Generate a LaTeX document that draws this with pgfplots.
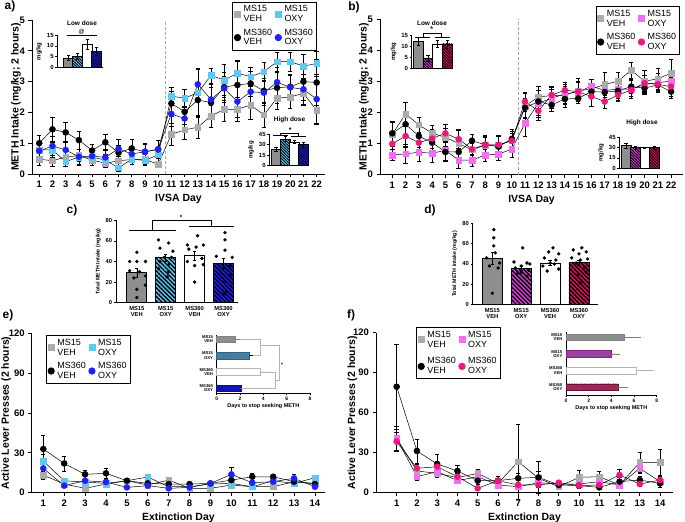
\documentclass[border=0pt]{standalone}
\usepackage{pgfplots}
\usepackage{pgfplotstable}
\pgfplotsset{compat=1.18}
\usetikzlibrary{patterns,patterns.meta}
\usepackage{fontspec}
\setmainfont{Liberation Sans}
\definecolor{msgray}{HTML}{ABABAB}
\definecolor{bargray}{HTML}{8E8E8E}
\definecolor{ltblue}{HTML}{5CC8F4}
\definecolor{mblue}{HTML}{1F1FFF}
\definecolor{ltmag}{HTML}{F46CF4}
\definecolor{hpink}{HTML}{F2157E}
\definecolor{dmag}{HTML}{D840D8}
\definecolor{crim}{HTML}{E0105A}
\definecolor{teal}{HTML}{3A8DC0}
\definecolor{dblue}{HTML}{1414B4}
\definecolor{fmag}{HTML}{B830C0}
\definecolor{fcrim}{HTML}{B01050}
\definecolor{brk}{HTML}{B4B4B4}

\pgfplotstableread{
d g ge c ce k ke b be
1 0.48 0.18 0.78 0.2 1.00 0.25 0.75 0.25
2 0.43 0.18 0.78 0.25 1.45 0.4 0.91 0.3
3 0.55 0.2 0.40 0.15 1.35 0.33 0.78 0.3
4 0.60 0.2 0.55 0.25 1.10 0.3 0.56 0.25
5 0.45 0.15 0.55 0.2 0.76 0.2 0.58 0.2
6 0.35 0.12 0.45 0.2 1.03 0.27 0.54 0.25
7 0.43 0.15 0.20 0.1 0.69 0.25 0.82 0.3
8 0.47 0.15 0.48 0.15 0.83 0.3 0.65 0.25
9 0.48 0.15 0.44 0.15 0.72 0.27 0.72 0.25
10 0.31 0.1 0.62 0.2 0.80 0.3 0.80 0.3
11 1.29 0.35 2.53 0.3 2.29 0.4 1.95 0.4
12 1.43 0.3 2.46 0.3 2.02 0.4 1.80 0.4
13 1.52 0.35 2.64 0.8 2.40 0.5 2.91 0.5
14 1.88 0.35 3.20 0.25 2.32 0.5 2.42 0.5
15 2.10 0.4 3.05 0.5 2.82 0.5 2.78 0.4
16 2.10 0.4 3.27 0.4 2.89 0.8 2.35 0.5
17 2.24 0.45 3.16 0.3 2.94 0.4 2.67 0.4
18 1.92 0.4 3.32 0.3 2.70 0.4 2.64 0.4
19 2.46 0.35 3.65 0.3 2.80 0.5 2.98 0.5
20 2.50 0.35 3.65 0.3 2.83 0.4 2.81 0.4
21 2.62 0.4 3.50 0.4 3.00 0.6 2.75 0.5
22 2.06 0.4 3.59 0.4 2.97 0.75 2.43 0.8
}\tA
\pgfplotstableread{
d g ge m me k ke p pe
1 1.30 0.4 0.63 0.18 1.33 0.4 0.99 0.3
2 1.95 0.38 0.67 0.3 1.62 0.7 1.24 0.35
3 1.60 0.25 0.72 0.3 1.24 0.35 1.03 0.3
4 1.33 0.25 0.69 0.3 1.03 0.35 1.16 0.3
5 1.20 0.3 0.78 0.3 0.73 0.3 1.33 0.3
6 1.00 0.45 0.47 0.25 0.73 0.3 1.14 0.3
7 0.80 0.3 0.47 0.2 1.09 0.2 0.82 0.2
8 0.95 0.3 0.63 0.2 0.96 0.3 0.96 0.25
9 0.95 0.3 0.66 0.2 0.90 0.35 0.96 0.3
10 1.10 0.3 0.82 0.25 1.15 0.3 1.09 0.25
11 2.20 0.4 1.65 0.4 2.15 0.3 2.35 0.3
12 2.50 0.35 2.30 0.4 2.35 0.5 2.05 0.3
13 2.54 0.3 2.45 0.3 2.24 0.2 2.56 0.25
14 2.55 0.3 2.60 0.3 2.43 0.25 2.71 0.25
15 2.70 0.4 2.65 0.35 2.45 0.15 2.67 0.3
16 2.75 0.3 2.85 0.2 2.67 0.2 2.51 0.3
17 2.90 0.4 2.70 0.3 2.65 0.25 2.35 0.2
18 3.00 0.3 2.75 0.3 2.69 0.3 2.56 0.2
19 3.36 0.25 2.75 0.3 2.83 0.2 2.72 0.2
20 3.00 0.35 2.90 0.3 2.78 0.2 2.94 0.25
21 3.08 0.35 2.95 0.3 2.88 0.2 2.90 0.2
22 3.26 0.45 3.01 0.3 2.67 0.2 2.83 0.3
}\tB
\pgfplotstableread{
d g ge c ce k ke b be
1 13.3 3 23.8 5 32.9 10 18.3 5
2 6.5 2 9 2 22 5.5 5.3 1.5
3 3.3 1 8 2 13.8 3 9 2
4 6.5 2 7 2 14.6 4 8 2
5 9 2 9 2 9 2 4 1.5
6 5.8 2 11.8 2 7 2 5.3 1.5
7 9.5 2 4.5 1.5 6.5 2 3.3 1
8 3.3 1 4.5 1.5 6.5 1.5 4 1
9 3.3 1 6.5 2 7 2 7 2
10 5.8 2 7 2 9.5 3 13.8 5.5
11 4.5 1.5 4.5 1.5 12 3 7.5 2
12 4.5 1.5 9 2 12 2 8.3 2
13 8.3 2 7 2 8.3 2 10.8 3
14 7 2 11.3 2 6.5 2 4.5 1.5
}\tE
\pgfplotstableread{
d g ge m me k ke p pe
1 40.8 9 40.8 9 79.5 32 38.3 7
2 16.3 5 12 3 31.3 9 18.3 4
3 14.5 3 15.8 3 21.5 7 19.5 4
4 11.3 3 9 2 16.3 4 12 3
5 14.5 3 12 3 9 3 3.3 1
6 7 2 5.8 2 9 3 9 3
7 23.3 28 4.5 1.5 10.8 4 5.8 2
8 10.8 5 7.5 2 11.5 12 5.8 2
9 4.5 1.5 6.5 2 5.8 2 7.5 2
10 11.5 5 6.5 2 5.3 2 5.3 2
11 12 4 8.3 3 4 1.5 5.8 2
12 5.8 2 5.8 2 8.3 3 13.3 4
13 22.8 7.5 18.3 4 9.5 3 6.5 2
14 22.8 10 8.3 3 7 3 9.5 3
}\tF

\pgfplotsset{
  prism/.style={scale only axis, anchor=south west, axis x line*=bottom, axis y line*=left,
    axis line style={line width=0.9pt,-}, tick align=outside, major tick length=3.5bp,
    tick style={line width=0.9pt,black}, clip=false, enlargelimits=false,
    /pgf/number format/assume math mode=true,
    ticklabel style={font=\fontsize{9.5}{10}\selectfont\bfseries},
    label style={font=\fontsize{10.5}{12}\selectfont\bfseries},
    legend cell align=left},
  inset/.style={prism, axis line style={line width=0.6pt}, tick style={line width=0.6pt},
    major tick length=2bp, ticklabel style={font=\fontsize{6}{6}\selectfont\bfseries, inner sep=1.5bp},
    label style={font=\fontsize{6}{6}\selectfont\bfseries}, xtick=\empty, ylabel shift=0pt},
  eb/.style={error bars/y dir=both, error bars/y explicit,
    error bars/error bar style={line width=0.45pt,black},
    error bars/error mark options={rotate=90,mark size=2.2bp,line width=0.45pt,black}},
  ebs/.style={error bars/y dir=both, error bars/y explicit,
    error bars/error bar style={line width=0.5pt,black},
    error bars/error mark options={rotate=90,mark size=1.6bp,line width=0.5pt,black}},
  ebx/.style={error bars/x dir=plus, error bars/x explicit,
    error bars/error bar style={line width=0.5pt,#1},
    error bars/error mark options={mark size=1.5bp,line width=0.5pt,#1}},
  sq/.style={black, line width=0.5pt, mark=square*, mark options={solid,fill=#1,draw=#1,mark size=2.8bp}},
  ci/.style={black, line width=0.5pt, mark=*, mark options={solid,fill=#1,draw=#1,mark size=3bp}},
  bar/.style={ybar, bar shift=0pt, fill=#1, draw=black, line width=0.6pt},
  hbar/.style 2 args={ybar, bar shift=0pt, fill=#1, draw=black, line width=0.6pt,
    postaction={pattern={Lines[angle=-45,distance=#2,line width=0.45*#2]}, pattern color=black}},
  leg/.style={legend style={draw=black, line width=0.8pt, font=\fontsize{9}{10}\selectfont,
    inner sep=1.5bp, row sep=1.5bp, column sep=1bp, cells={align=left}}}
}

\begin{document}
\begin{tikzpicture}[x=1bp,y=1bp]
\useasboundingbox (0,0) rectangle (685,522);
\tikzset{plab/.style={font=\fontsize{12}{12}\selectfont\bfseries}}
\node[plab] at (10,516) {a)};
\node[plab] at (354,515) {b)};
\node[plab] at (72,312) {c)};
\node[plab] at (430,312) {d)};
\node[plab] at (8,207) {e)};
\node[plab] at (351,207) {f)};

% ---------------- panel a ----------------
\begin{axis}[prism, leg, at={(32bp,348bp)}, width=293bp, height=154bp,
  xmin=0.45, xmax=22.63, ymin=0, ymax=5, xtick={1,...,22}, ytick={0,...,5},
  ylabel={METH Intake (mg/kg; 2 hours)}, xlabel={IVSA Day}, ylabel shift=-8bp,
  legend columns=2, legend style={at={(0.972,1.119)}, anchor=north east}]
\addplot[forget plot, densely dashed, gray!70, line width=0.5pt] coordinates {(10.5,0) (10.5,5)};
\addplot[forget plot, sq=msgray, eb] table[x=d,y=g,y error=ge] {\tA};
\addplot[forget plot, sq=ltblue, eb] table[x=d,y=c,y error=ce] {\tA};
\addplot[forget plot, ci=black, eb] table[x=d,y=k,y error=ke] {\tA};
\addplot[forget plot, ci=mblue, eb] table[x=d,y=b,y error=be] {\tA};
\addlegendimage{only marks, mark=square*, mark options={fill=msgray,draw=msgray,mark size=3bp}}
\addlegendentry{MS15\\VEH}
\addlegendimage{only marks, mark=square*, mark options={fill=ltblue,draw=ltblue,mark size=3bp}}
\addlegendentry{MS15\\OXY}
\addlegendimage{only marks, mark=*, mark options={fill=black,draw=black,mark size=3.2bp}}
\addlegendentry{MS360\\VEH}
\addlegendimage{only marks, mark=*, mark options={fill=mblue,draw=mblue,mark size=3.2bp}}
\addlegendentry{MS360\\OXY}
\end{axis}
\node[font=\fontsize{6.5}{7}\selectfont\bfseries] at (82,498.7) {Low dose};
\begin{axis}[inset, at={(57.3bp,454.3bp)}, width=45.4bp, height=32.7bp,
  xmin=-1.16, xmax=3.64, ymin=0, ymax=15, ytick={0,5,10,15}, ylabel={mg/kg}]
\addplot[bar=bargray, ebs] coordinates {(0,4.5) +- (0,1.0)};
\addplot[hbar={ltblue}{2bp}, ebs] coordinates {(1,5.3) +- (0,1.3)};
\addplot[bar=white, ebs] coordinates {(2,10.7) +- (0,2.2)};
\addplot[hbar={mblue}{2bp}, ebs] coordinates {(3,7.5) +- (0,1.8)};
\draw[line width=0.5pt] (axis cs:-0.17,15) -- (axis cs:3,15);
\node[font=\fontsize{6}{6}\selectfont\bfseries] at (axis cs:1.4,16.6) {@};
\end{axis}
\node[font=\fontsize{6.5}{7}\selectfont\bfseries] at (289.5,402) {High dose};
\begin{axis}[inset, at={(269.3bp,356.3bp)}, width=38.7bp, height=31.4bp,
  xmin=-0.74, xmax=3.52, ymin=0, ymax=45, ytick={0,15,30,45}, ylabel={mg/kg}]
\addplot[bar=bargray, ebs] coordinates {(0,24) +- (0,3)};
\addplot[hbar={ltblue}{2bp}, ebs] coordinates {(1,38) +- (0,3.5)};
\addplot[bar=white, ebs] coordinates {(2,34) +- (0,2)};
\addplot[hbar={mblue}{2bp}, ebs] coordinates {(3,30) +- (0,4)};
\draw[line width=0.5pt] (axis cs:-0.3,44) -- (axis cs:1.3,44);
\draw[line width=0.5pt] (axis cs:1.7,42) -- (axis cs:3.3,42);
\draw[line width=0.5pt] (axis cs:0.5,44) -- (axis cs:0.5,47) -- (axis cs:2.5,47) -- (axis cs:2.5,42);
\node[font=\fontsize{7}{7}\selectfont\bfseries] at (axis cs:1.55,50.5) {*};
\end{axis}

% ---------------- panel b ----------------
\begin{axis}[prism, leg, at={(380bp,347.3bp)}, width=303bp, height=155.7bp,
  xmin=0.073, xmax=22.9, ymin=0, ymax=5, xtick={1,...,22}, ytick={0,...,5},
  ylabel={METH Intake (mg/kg; 2 hours)}, xlabel={IVSA Day}, ylabel shift=-8bp,
  legend columns=2, legend style={at={(0.99,1.083)}, anchor=north east}]
\addplot[forget plot, densely dashed, gray!70, line width=0.5pt] coordinates {(10.5,0) (10.5,5)};
\addplot[forget plot, sq=msgray, eb] table[x=d,y=g,y error=ge] {\tB};
\addplot[forget plot, sq=ltmag, eb] table[x=d,y=m,y error=me] {\tB};
\addplot[forget plot, ci=black, eb] table[x=d,y=k,y error=ke] {\tB};
\addplot[forget plot, ci=hpink, eb] table[x=d,y=p,y error=pe] {\tB};
\addlegendimage{only marks, mark=square*, mark options={fill=msgray,draw=msgray,mark size=3bp}}
\addlegendentry{MS15\\VEH}
\addlegendimage{only marks, mark=square*, mark options={fill=ltmag,draw=ltmag,mark size=3bp}}
\addlegendentry{MS15\\OXY}
\addlegendimage{only marks, mark=*, mark options={fill=black,draw=black,mark size=3.2bp}}
\addlegendentry{MS360\\VEH}
\addlegendimage{only marks, mark=*, mark options={fill=hpink,draw=hpink,mark size=3.2bp}}
\addlegendentry{MS360\\OXY}
\end{axis}
\node[font=\fontsize{6.5}{7}\selectfont\bfseries] at (432,498.7) {Low dose};
\begin{axis}[inset, at={(411.7bp,453.7bp)}, width=38.3bp, height=33.3bp,
  xmin=-0.69, xmax=3.3, ymin=0, ymax=15, ytick={0,5,10,15}, ylabel={mg/kg}]
\addplot[bar=bargray, ebs] coordinates {(0,12.3) +- (0,1.8)};
\addplot[hbar={dmag}{2bp}, ebs] coordinates {(1,4.5) +- (0,1.5)};
\addplot[bar=white, ebs] coordinates {(2,11) +- (0,1.5)};
\addplot[hbar={crim}{2bp}, ebs] coordinates {(3,11) +- (0,1.8)};
\draw[line width=0.5pt] (axis cs:-0.34,14) -- (axis cs:1.22,14);
\draw[line width=0.5pt] (axis cs:1.74,14) -- (axis cs:3.3,14);
\draw[line width=0.5pt] (axis cs:0.46,14) -- (axis cs:0.46,16) -- (axis cs:2.43,16) -- (axis cs:2.43,14);
\node[font=\fontsize{7}{7}\selectfont\bfseries] at (axis cs:1.4,17.6) {*};
\end{axis}
\node[font=\fontsize{6.5}{7}\selectfont\bfseries] at (642,399.3) {High dose};
\begin{axis}[inset, at={(619.3bp,353.7bp)}, width=38.7bp, height=31bp,
  xmin=-0.71, xmax=3.4, ymin=0, ymax=45, ytick={0,15,30,45}, ylabel={mg/kg}]
\addplot[bar=bargray, ebs] coordinates {(0,33) +- (0,3.5)};
\addplot[hbar={dmag}{2bp}, ebs] coordinates {(1,30) +- (0,2.5)};
\addplot[bar=white, ebs] coordinates {(2,30) +- (0,1)};
\addplot[hbar={crim}{2bp}, ebs] coordinates {(3,30) +- (0,2.5)};
\end{axis}

% ---------------- panel c ----------------
\begin{axis}[prism, at={(116bp,219.3bp)}, width=122bp, height=82.4bp,
  axis line style={line width=0.7pt}, tick style={line width=0.7pt}, major tick length=2.2bp,
  xmin=-0.72, xmax=3.5, ymin=0, ymax=80, ytick={0,20,40,60,80},
  xtick={0,1,2,3}, xticklabels={{MS15\\VEH},{MS15\\OXY},{MS360\\VEH},{MS360\\OXY}},
  xtick style={draw=none},
  ticklabel style={font=\fontsize{5.8}{6.3}\selectfont\bfseries, inner sep=1.5bp},
  xticklabel style={align=center},
  ylabel={Total METH Intake (mg/kg)}, ylabel style={font=\fontsize{5.3}{6}\selectfont\bfseries}]
\addplot[ybar, bar shift=0pt, bar width=20bp, fill=bargray, draw=black, line width=0.7pt, ebs] coordinates {(0,29) +- (0,4)};
\addplot[hbar={ltblue}{3bp}, bar width=20bp, line width=0.7pt, ebs] coordinates {(1,44) +- (0,3.5)};
\addplot[ybar, bar shift=0pt, bar width=20bp, fill=white, draw=black, line width=0.7pt, ebs] coordinates {(2,45.5) +- (0,4.5)};
\addplot[hbar={mblue}{3bp}, bar width=20bp, line width=0.7pt, ebs] coordinates {(3,38) +- (0,5)};
\addplot[only marks, mark=*, mark size=1.5bp, black] coordinates {
(0,49) (-0.25,40) (0,40) (0.3,40) (-0.25,31) (0.1,30) (0.3,26) (-0.1,24) (0.3,17) (0,13) (0,5)
(0.75,61) (1.1,58) (0.8,53) (1.25,50) (0.95,44) (1.2,44) (0.8,40) (1.1,37) (0.75,33) (1.1,30) (1.05,25)
(2.1,65) (1.75,56) (2.3,56) (2.05,54) (1.8,52) (2.25,43) (1.75,40) (2.3,37) (2,36) (2,20)
(3.05,68) (3.05,61) (3.05,51) (2.75,45) (3.3,44) (3.2,35) (3.25,27) (3,20) (3.1,11) (3,8)};
\draw[line width=0.6pt] (axis cs:-0.26,70) -- (axis cs:1.36,70);
\draw[line width=0.6pt] (axis cs:1.82,73.8) -- (axis cs:3.37,73.8);
\draw[line width=0.6pt] (axis cs:0.52,70) -- (axis cs:0.52,80.3) -- (axis cs:2.57,80.3) -- (axis cs:2.57,73.8);
\node[font=\fontsize{6}{6}\selectfont\bfseries] at (axis cs:1.53,82.5) {*};
\end{axis}

% ---------------- panel d ----------------
\begin{axis}[prism, at={(472.7bp,217.7bp)}, width=125.3bp, height=80.6bp,
  axis line style={line width=0.7pt}, tick style={line width=0.7pt}, major tick length=2.2bp,
  xmin=-0.68, xmax=3.66, ymin=0, ymax=80, ytick={0,20,40,60,80},
  xtick={0,1,2,3}, xticklabels={{MS15\\VEH},{MS15\\OXY},{MS360\\VEH},{MS360\\OXY}},
  xtick style={draw=none},
  ticklabel style={font=\fontsize{5.8}{6.3}\selectfont\bfseries, inner sep=1.5bp},
  xticklabel style={align=center},
  ylabel={Total METH Intake (mg/kg)}, ylabel style={font=\fontsize{5.3}{6}\selectfont\bfseries}]
\addplot[ybar, bar shift=0pt, bar width=20bp, fill=bargray, draw=black, line width=0.7pt, ebs] coordinates {(0,45.5) +- (0,6)};
\addplot[hbar={dmag}{3bp}, bar width=20bp, line width=0.7pt, ebs] coordinates {(1,36) +- (0,2.5)};
\addplot[ybar, bar shift=0pt, bar width=20bp, fill=white, draw=black, line width=0.7pt, ebs] coordinates {(2,41) +- (0,2.5)};
\addplot[hbar={crim}{3bp}, bar width=20bp, line width=0.7pt, ebs] coordinates {(3,41.5) +- (0,2.5)};
\addplot[only marks, mark=*, mark size=1.5bp, black] coordinates {
(0.05,74) (0.05,66) (0.05,58) (0.1,51) (-0.2,46) (0.25,41) (-0.1,38) (0.2,36) (0,11)
(1.05,56) (0.75,42) (1.2,41) (1,38) (0.8,36) (1.25,34) (1,32) (0.85,30) (1.2,28) (1.3,40)
(2.1,56) (1.95,52) (2.3,50) (1.8,46) (2.2,44) (2,41) (1.75,38) (2.3,35) (1.9,33) (2.15,40)
(3.1,56) (2.8,54) (3.25,52) (3,50) (2.75,46) (3.3,45) (3.05,44) (2.9,41) (3.2,37) (3.25,32) (2.95,29) (3.05,21)};
\end{axis}

% ---------------- panel e ----------------
\begin{axis}[prism, leg, at={(31.7bp,29.3bp)}, width=293.3bp, height=159.4bp,
  xmin=0.445, xmax=14.48, ymin=0, ymax=120, xtick={1,...,14}, ytick={0,30,60,90,120},
  ylabel={Active Lever Presses (2 hours)}, xlabel={Extinction Day}, ylabel shift=-9bp,
  legend columns=2, legend style={at={(0.049,0.989)}, anchor=north west}]
\addplot[forget plot, sq=msgray, eb] table[x=d,y=g,y error=ge] {\tE};
\addplot[forget plot, sq=ltblue, eb] table[x=d,y=c,y error=ce] {\tE};
\addplot[forget plot, ci=black, eb] table[x=d,y=k,y error=ke] {\tE};
\addplot[forget plot, ci=mblue, eb] table[x=d,y=b,y error=be] {\tE};
\addlegendimage{only marks, mark=square*, mark options={fill=msgray,draw=msgray,mark size=3bp}}
\addlegendentry{MS15\\VEH}
\addlegendimage{only marks, mark=square*, mark options={fill=ltblue,draw=ltblue,mark size=3bp}}
\addlegendentry{MS15\\OXY}
\addlegendimage{only marks, mark=*, mark options={fill=black,draw=black,mark size=3.2bp}}
\addlegendentry{MS360\\VEH}
\addlegendimage{only marks, mark=*, mark options={fill=mblue,draw=mblue,mark size=3.2bp}}
\addlegendentry{MS360\\OXY}
\end{axis}
\begin{axis}[inset, at={(216.7bp,128.7bp)}, width=93.3bp, height=58.3bp,
  xmin=0, xmax=8, ymin=-0.31, ymax=3.26, xtick={0,2,4,6,8}, ytick={0,1,2,3},
  yticklabels={{MS360\\OXY},{MS360\\VEH},{MS15\\OXY},{MS15\\VEH}},
  yticklabel style={align=right, font=\fontsize{4.2}{4.4}\selectfont\bfseries},
  ytick style={draw=none}, xticklabel style={font=\fontsize{5}{5}\selectfont\bfseries},
  xlabel={Days to stop seeking METH}, xlabel style={font=\fontsize{5.5}{6}\selectfont\bfseries, yshift=2bp}]
\addplot[xbar, bar shift=0pt, bar width=6.7bp, fill=bargray, draw=gray, line width=0.5pt, ebx=gray] coordinates {(1.6,3) +- (0.4,0)};
\addplot[xbar, bar shift=0pt, bar width=6.7bp, fill=teal, draw=teal!70!black, line width=0.5pt, ebx=black,
  postaction={pattern={Lines[angle=45,distance=1.2bp,line width=0.3bp]}, pattern color=black!60}] coordinates {(2.8,2) +- (0.5,0)};
\addplot[xbar, bar shift=0pt, bar width=6.7bp, fill=white, draw=brk, line width=0.5pt, ebx=brk] coordinates {(3.7,1) +- (0.9,0)};
\addplot[xbar, bar shift=0pt, bar width=6.7bp, fill=dblue, draw=dblue!70!black, line width=0.5pt, ebx=brk] coordinates {(2.1,0) +- (0.5,0)};
\draw[brk, line width=0.6pt] (axis cs:2.0,3) -- (axis cs:3.71,3) -- (axis cs:3.71,2) -- (axis cs:3.14,2);
\draw[brk, line width=0.6pt] (axis cs:3.71,2.61) -- (axis cs:5.37,2.61) -- (axis cs:5.37,0.51) -- (axis cs:5.0,0.51);
\draw[brk, line width=0.6pt] (axis cs:4.6,1) -- (axis cs:5.0,1) -- (axis cs:5.0,0) -- (axis cs:2.6,0);
\node[font=\fontsize{5}{5}\selectfont\bfseries] at (axis cs:5.6,1.45) {*};
\end{axis}

% ---------------- panel f ----------------
\begin{axis}[prism, leg, at={(376bp,29.3bp)}, width=297bp, height=160bp,
  xmin=-0.02, xmax=14.64, ymin=0, ymax=120, xtick={1,...,14}, ytick={0,30,60,90,120},
  ylabel={Active Lever Presses (2 hours)}, xlabel={Extinction Day}, ylabel shift=-11bp,
  legend columns=2, legend style={at={(0.135,1.036)}, anchor=north west, row sep=5bp}]
\addplot[forget plot, sq=msgray, eb] table[x=d,y=g,y error=ge] {\tF};
\addplot[forget plot, sq=ltmag, eb] table[x=d,y=m,y error=me] {\tF};
\addplot[forget plot, ci=black, eb] table[x=d,y=k,y error=ke] {\tF};
\addplot[forget plot, ci=hpink, eb] table[x=d,y=p,y error=pe] {\tF};
\addlegendimage{only marks, mark=square*, mark options={fill=msgray,draw=msgray,mark size=3bp}}
\addlegendentry{MS15\\VEH}
\addlegendimage{only marks, mark=square*, mark options={fill=ltmag,draw=ltmag,mark size=3bp}}
\addlegendentry{MS15\\OXY}
\addlegendimage{only marks, mark=*, mark options={fill=black,draw=black,mark size=3.2bp}}
\addlegendentry{MS360\\VEH}
\addlegendimage{only marks, mark=*, mark options={fill=hpink,draw=hpink,mark size=3.2bp}}
\addlegendentry{MS360\\OXY}
\end{axis}
\begin{axis}[inset, at={(566bp,127bp)}, width=90.7bp, height=63bp,
  xmin=0, xmax=8, ymin=-0.46, ymax=3.32, xtick={0,2,4,6,8}, ytick={0,1,2,3},
  yticklabels={{MS360\\OXY},{MS360\\VEH},{MS15\\OXY},{MS15\\VEH}},
  yticklabel style={align=right, font=\fontsize{4.2}{4.4}\selectfont\bfseries},
  ytick style={draw=none}, xticklabel style={font=\fontsize{5}{5}\selectfont\bfseries},
  xlabel={Days to stop seeking METH}, xlabel style={font=\fontsize{5.5}{6}\selectfont\bfseries, yshift=2bp}]
\addplot[xbar, bar shift=0pt, bar width=6.7bp, fill=bargray, draw=gray, line width=0.5pt, ebx=gray] coordinates {(5.1,3) +- (1.4,0)};
\addplot[xbar, bar shift=0pt, bar width=6.7bp, fill=fmag, draw=fmag!70!black, line width=0.5pt, ebx=gray,
  postaction={pattern={Lines[angle=45,distance=1.2bp,line width=0.3bp]}, pattern color=black!60}] coordinates {(4.0,2) +- (0.6,0)};
\addplot[xbar, bar shift=0pt, bar width=6.7bp, fill=white, draw=brk, line width=0.5pt, ebx=brk] coordinates {(6.2,1) +- (1.4,0)};
\addplot[xbar, bar shift=0pt, bar width=6.7bp, fill=fcrim, draw=fcrim!70!black, line width=0.5pt, ebx=gray,
  postaction={pattern={Lines[angle=45,distance=1.2bp,line width=0.3bp]}, pattern color=black!60}] coordinates {(4.6,0) +- (0.7,0)};
\end{axis}
\end{tikzpicture}
\end{document}
